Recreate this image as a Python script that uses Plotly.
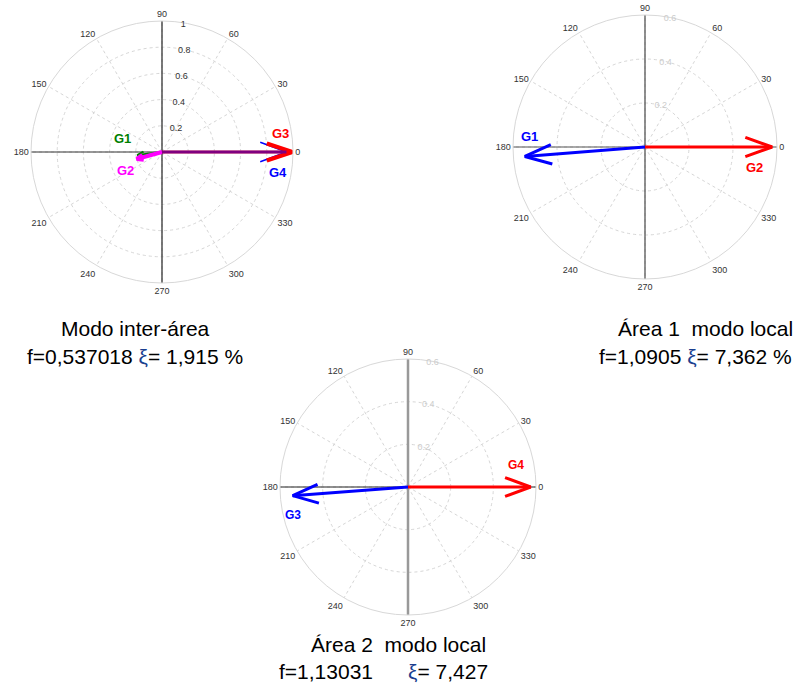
import math
import plotly.graph_objects as go

W, H = 810, 685

# ---------------- data ----------------
# mode 1: inter-area
m1_names = ["G1", "G2", "G3", "G4"]
m1_mag = [0.19, 0.20, 1.00, 0.95]
m1_ang = [187.0, 195.5, 0.0, 0.0]
m1_colors = ["#008000", "#ff00ff", "#ff0000", "#0000ff"]

# mode 2: area 1 local
m2_names = ["G1", "G2"]
m2_mag = [0.548, 0.578]
m2_ang = [184.5, 0.0]
m2_colors = ["#0000ff", "#ff0000"]

# mode 3: area 2 local
m3_names = ["G3", "G4"]
m3_mag = [0.542, 0.575]
m3_ang = [184.3, 0.0]
m3_colors = ["#0000ff", "#ff0000"]

angular_ticks = [0, 30, 60, 90, 120, 150, 180, 210, 240, 270, 300, 330]
radial_ticks_1 = [0.2, 0.4, 0.6, 0.8, 1.0]
radial_ticks_1_text = ["0.2", "0.4", "0.6", "0.8", "1"]
radial_ticks_2 = [0.2, 0.4, 0.6]
radial_ticks_2_text = ["0.2", "0.4", "0.6"]

captions = [
    ("Modo inter-área", "f=0,537018 <span style='color:#1b3f8f'>ξ</span>= 1,915 %"),
    ("Área 1  modo local", "f=1,0905 <span style='color:#1b3f8f'>ξ</span>= 7,362 %"),
    ("Área 2  modo local", "f=1,13031      <span style='color:#1b3f8f'>ξ</span>= 7,427"),
]

# ---------------- layout helpers ----------------
def dom(cx, cy, r):
    return dict(x=[(cx - r) / W, (cx + r) / W], y=[1 - (cy + r) / H, 1 - (cy - r) / H])

def px(x, y):
    return x / W, 1 - y / H

fig = go.Figure()

def arrow_traces(sub, r, th, color, width, head_len, head_hw, head_width=None, shaft_color=None):
    t = math.radians(th)
    tx, ty = r * math.cos(t), r * math.sin(t)
    ux, uy = math.cos(t), math.sin(t)
    nx, ny = -uy, ux
    pts = []
    for s in (1, -1):
        bx = tx - head_len * ux + s * head_hw * nx
        by = ty - head_len * uy + s * head_hw * ny
        pts.append((math.hypot(bx, by), math.degrees(math.atan2(by, bx))))
    out = []
    out.append(go.Scatterpolar(r=[0, r], theta=[th, th], mode="lines",
                               line=dict(color=shaft_color or color, width=width),
                               subplot=sub, showlegend=False, hoverinfo="skip"))
    out.append(go.Scatterpolar(r=[pts[0][0], r, pts[1][0]], theta=[pts[0][1], th, pts[1][1]],
                               mode="lines", line=dict(color=color, width=head_width or width),
                               subplot=sub, showlegend=False, hoverinfo="skip"))
    return out

def cross(sub, rmax, hcol, hw, vcol, vw):
    fig.add_trace(go.Scatterpolar(r=[rmax, 0, rmax], theta=[0, 0, 180], mode="lines",
                                  line=dict(color=hcol, width=hw), subplot=sub,
                                  showlegend=False, hoverinfo="skip"))
    fig.add_trace(go.Scatterpolar(r=[rmax, 0, rmax], theta=[90, 90, 270], mode="lines",
                                  line=dict(color=vcol, width=vw), subplot=sub,
                                  showlegend=False, hoverinfo="skip"))

# ---- subplot 1 ----
cross("polar", 1.0, "#333333", 1, "#333333", 1.3)
for i in (0, 1):
    for tr in arrow_traces("polar", m1_mag[i], m1_ang[i], m1_colors[i],
                           2 if i == 0 else 4, 0.05, 0.02):
        fig.add_trace(tr)
for tr in arrow_traces("polar", m1_mag[3], m1_ang[3], m1_colors[3], 2, 0.2, 0.074, head_width=1.5):
    fig.add_trace(tr)
for tr in arrow_traces("polar", m1_mag[2], m1_ang[2], m1_colors[2], 3, 0.2, 0.065, head_width=4):
    fig.add_trace(tr)
fig.add_trace(go.Scatterpolar(r=[0, m1_mag[3]], theta=[m1_ang[3], m1_ang[3]], mode="lines",
                              line=dict(color="rgba(0,0,255,0.5)", width=3), subplot="polar",
                              showlegend=False, hoverinfo="skip"))

# ---- subplot 2 ----
cross("polar2", 0.6, "#555555", 1.2, "#555555", 1.3)
for i in range(2):
    for tr in arrow_traces("polar2", m2_mag[i], m2_ang[i], m2_colors[i], 3, 0.122, 0.044):
        fig.add_trace(tr)

# ---- subplot 3 ----
cross("polar3", 0.6, "#222222", 1, "#999999", 2.5)
for i in range(2):
    for tr in arrow_traces("polar3", m3_mag[i], m3_ang[i], m3_colors[i], 3, 0.12, 0.044):
        fig.add_trace(tr)

def polar_layout(d, rmax, tvals, ttext, tcol):
    return dict(
        domain=d,
        bgcolor="white",
        radialaxis=dict(range=[0, rmax], tickvals=tvals, ticktext=ttext, showline=False,
                        ticks="", angle=84, tickangle=84, side="clockwise",
                        tickfont=dict(family="Liberation Sans, Arial", size=9, color=tcol),
                        gridcolor="#d6d6d6", griddash="3px,3px", gridwidth=1),
        angularaxis=dict(tickvals=angular_ticks, ticktext=[str(a) for a in angular_ticks],
                         direction="counterclockwise", rotation=0, showline=True,
                         linecolor="#d8d8d8", linewidth=1, ticks="",
                         gridcolor="#d6d6d6", griddash="3px,3px", gridwidth=1,
                         tickfont=dict(family="Liberation Sans, Arial", size=9, color="#333333")),
    )

fig.update_layout(
    width=W, height=H,
    margin=dict(l=0, r=0, t=0, b=0),
    paper_bgcolor="white",
    plot_bgcolor="white",
    polar=polar_layout(dom(162, 152, 131), 1.0, radial_ticks_1, radial_ticks_1_text, "#333333"),
    polar2=polar_layout(dom(645, 147, 132), 0.6, radial_ticks_2, radial_ticks_2_text, "#cccccc"),
    polar3=polar_layout(dom(408, 487, 128), 0.6, radial_ticks_2, radial_ticks_2_text, "#cccccc"),
)

annotations = []
def lab(text, x, y, color, size):
    xx, yy = px(x, y)
    annotations.append(dict(text=f"<b>{text}</b>", x=xx, y=yy, xref="paper", yref="paper",
                            showarrow=False, xanchor="center", yanchor="middle",
                            font=dict(family="Liberation Sans, Arial", size=size, color=color)))

lab(m1_names[0], 122, 138, m1_colors[0], 13)
lab(m1_names[1], 125, 171, m1_colors[1], 13)
lab(m1_names[2], 280, 133, m1_colors[2], 13)
lab(m1_names[3], 278, 173, m1_colors[3], 13)
lab(m2_names[0], 529, 136, m2_colors[0], 13)
lab(m2_names[1], 754, 167, m2_colors[1], 13)
lab(m3_names[0], 293, 515, m3_colors[0], 12)
lab(m3_names[1], 516, 465, m3_colors[1], 12)

cap_pos = [((135, 329), (135, 356)), ((705, 329), (695, 356)), ((398, 644), (383, 671))]
for (l1, l2), ((x1, y1), (x2, y2)) in zip(captions, cap_pos):
    for t, x, y in ((l1, x1, y1), (l2, x2, y2)):
        xx, yy = px(x, y)
        annotations.append(dict(text=t, x=xx, y=yy, xref="paper", yref="paper", showarrow=False,
                                xanchor="center", yanchor="middle",
                                font=dict(family="Liberation Sans, Arial", size=21, color="#000000")))

fig.update_layout(annotations=annotations)
fig.write_html("out.html")
